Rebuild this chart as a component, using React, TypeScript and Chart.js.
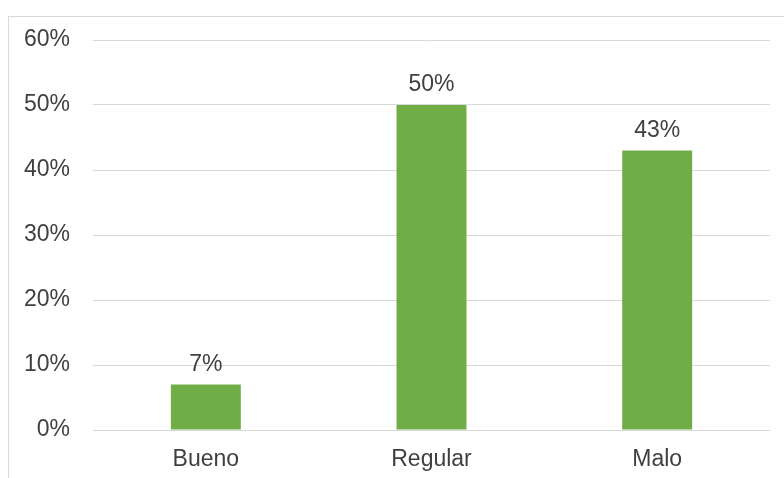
import React, { useEffect, useRef } from "react";
import { Chart, registerables } from "chart.js";

Chart.register(...registerables);

const categories = ["Bueno", "Regular", "Malo"];
const values = [7, 50, 43];
const yTicks = [0, 10, 20, 30, 40, 50, 60];

const FONT = "'Liberation Sans', Arial, sans-serif";

const dataLabelPlugin = {
  id: "dataLabels",
  afterDatasetsDraw(chart: any) {
    const ctx = chart.ctx;
    const meta = chart.getDatasetMeta(0);
    ctx.save();
    ctx.font = `23px ${FONT}`;
    ctx.fillStyle = "#404040";
    ctx.textAlign = "center";
    ctx.textBaseline = "alphabetic";
    meta.data.forEach((bar: any, i: number) => {
      ctx.fillText(`${values[i]}%`, bar.x, bar.y - 14);
    });
    ctx.restore();
  },
};

export default function App() {
  const ref = useRef<HTMLCanvasElement | null>(null);

  useEffect(() => {
    document.body.style.margin = "0";
    document.body.style.background = "#ffffff";
    if (!ref.current) return;
    const chart = new Chart(ref.current, {
      type: "bar",
      data: {
        labels: categories,
        datasets: [
          {
            data: values,
            backgroundColor: "#70AD47",
            borderWidth: 0,
            barPercentage: 0.31,
            categoryPercentage: 1,
          },
        ],
      },
      options: {
        responsive: false,
        animation: false,
        maintainAspectRatio: false,
        layout: { padding: { top: 40, right: 14, bottom: 0, left: 0 } },
        plugins: {
          legend: { display: false },
          tooltip: { enabled: false },
          title: { display: false },
        },
        scales: {
          x: {
            grid: { display: false, drawTicks: false },
            border: { display: false },
            ticks: {
              padding: 16,
              color: "#404040",
              font: { family: FONT, size: 23 },
            },
            afterFit: (s: any) => {
              s.height = 48;
            },
          },
          y: {
            min: 0,
            max: 60,
            afterBuildTicks: (s: any) => {
              s.ticks = yTicks.map((v) => ({ value: v }));
            },
            grid: { color: "#d9d9d9", lineWidth: 1, drawTicks: false },
            border: { display: false },
            ticks: {
              padding: 23,
              color: "#404040",
              font: { family: FONT, size: 23 },
              callback: (v: any) => `${v}%`,
            },
            afterFit: (s: any) => {
              s.width = 93;
            },
          },
        },
      },
      plugins: [dataLabelPlugin],
    });
    return () => chart.destroy();
  }, []);

  return (
    <div style={{ position: "fixed", left: 0, top: 0, width: 784, height: 478, background: "#fff", overflow: "hidden" }}>
      <div
        style={{
          position: "absolute",
          left: 8,
          top: 16,
          width: 800,
          height: 500,
          borderLeft: "1px solid #d9d9d9",
          borderTop: "1px solid #d9d9d9",
        }}
      />
      <canvas ref={ref} width={784} height={478} style={{ position: "absolute", left: 0, top: 0, width: 784, height: 478 }} />
    </div>
  );
}
